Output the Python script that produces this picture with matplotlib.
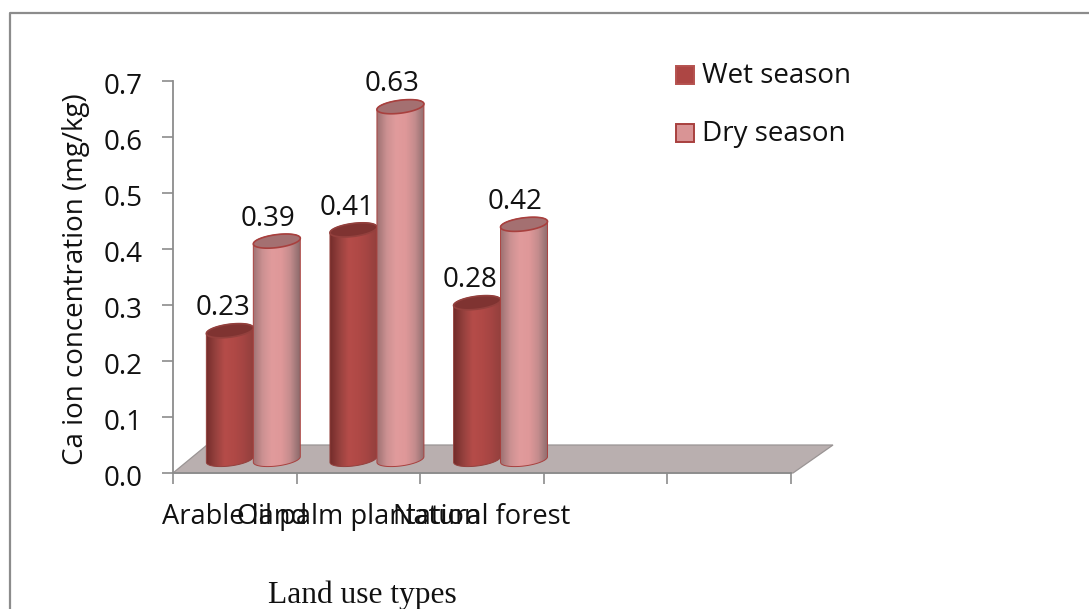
import numpy as np
import matplotlib
matplotlib.use("Agg")
import matplotlib.pyplot as plt
from matplotlib.patches import Polygon, Rectangle
from matplotlib.colors import LinearSegmentedColormap
from matplotlib.transforms import ScaledTranslation

categories = ["Arable land", "Oil palm plantation", "Natural forest"]
wet_season = [0.23, 0.41, 0.28]
dry_season = [0.39, 0.63, 0.42]
series_names = ["Wet season", "Dry season"]
y_ticks = [0.0, 0.1, 0.2, 0.3, 0.4, 0.5, 0.6, 0.7]
n_slots = 5

W, H = 1089, 609
plt.rcParams['font.family'] = ['Open Sans', 'DejaVu Sans']
fig = plt.figure(figsize=(W / 100, H / 100), dpi=100)

bg = fig.add_axes([0, 0, 1, 1])
bg.set_xlim(0, W); bg.set_ylim(H, 0); bg.axis('off')
bg.plot([10, 10, W + 5], [H + 5, 13, 13], color='#8c8c8c', lw=1.6, clip_on=False)

x0, x1, y0, y1 = 173, 791, 473, 81
ax = fig.add_axes([x0 / W, 1 - y0 / H, (x1 - x0) / W, (y0 - y1) / H])
ax.patch.set_alpha(0)
ax.set_xlim(0, n_slots); ax.set_ylim(0, 0.7)
for s in ['top', 'right']:
    ax.spines[s].set_visible(False)
for s in ['left', 'bottom']:
    ax.spines[s].set_color('#8c8c8c'); ax.spines[s].set_linewidth(1.3)
ax.set_yticks(y_ticks)
ax.set_yticklabels([f"{v:.1f}" for v in y_ticks], fontsize=20, color='#111111')
ax.set_xticks(np.arange(n_slots + 1))
ax.set_xticklabels([])
ax.tick_params(axis='both', length=8, width=1.2, color='#8c8c8c')
ax.tick_params(axis='y', pad=14)
shift = ScaledTranslation(0, -2 / 100, fig.dpi_scale_trans)
for lab in ax.get_yticklabels():
    lab.set_transform(lab.get_transform() + shift)
ax.set_ylabel("Ca ion concentration (mg/kg)", fontsize=20, color='#111111')
ax.yaxis.set_label_coords(-0.134, 0.494)

px = n_slots / (x1 - x0)
py = 0.7 / (y0 - y1)

ax.add_patch(Polygon([(0, 0), (34 * px, 28 * py), (660 * px, 28 * py), (620 * px, 0)],
                     closed=True, fc='#b9afaf', ec='#9a9494', lw=0.9, clip_on=False, zorder=1))

for i, c in enumerate(categories):
    ax.text(i + 0.5, -0.078, c, ha='center', va='center', fontsize=19.6, color='#111111')

wet_cmap = LinearSegmentedColormap.from_list('w', ['#752d2b', '#96413e', '#b54c49', '#b04946', '#a54543', '#93403d'])
dry_cmap = LinearSegmentedColormap.from_list('d', ['#a07374', '#cc9192', '#e19b9c', '#df9899', '#c48c8d', '#8e6c6d'])
wet_top, dry_top = '#7f3331', '#a47071'

half_w = 23.5 * px
ell_h = 6.5 * py
tilt = 0.12 * (py / px)
base = 13.5 * py
t = np.linspace(0, 2 * np.pi, 80)


def ell(cx, cy, tt):
    return np.c_[cx + half_w * np.cos(tt), cy + ell_h * np.sin(tt) + tilt * half_w * np.cos(tt)]


def cylinder(cx, v, cmap, edge, top, z):
    cy_top = base + v
    body = np.r_[ell(cx, base, np.linspace(np.pi, 2 * np.pi, 40)),
                 ell(cx, cy_top, np.linspace(0, np.pi, 40))]
    ax.add_patch(Polygon(body, closed=True, fc='none', ec=edge, lw=0.7, clip_on=False, zorder=z + 0.2))
    im = ax.imshow(np.linspace(0, 1, 64)[None, :], cmap=cmap, aspect='auto',
                   extent=[cx - half_w, cx + half_w, 0, 0.7], zorder=z)
    im.set_clip_path(Polygon(body, closed=True, transform=ax.transData))
    ax.add_patch(Polygon(ell(cx, cy_top, t), closed=True, fc=top, ec=edge, lw=1.2,
                         clip_on=False, zorder=z + 0.3))


for i in range(len(categories)):
    cylinder(i + 0.46, wet_season[i], wet_cmap, '#93403d', wet_top, 2 + i * 2)
    cylinder(i + 0.84, dry_season[i], dry_cmap, '#a8403e', dry_top, 3 + i * 2)
    ax.text(i + 0.46 - 6.5 * px, wet_season[i] + 0.064, f"{wet_season[i]:.2f}", ha='center', va='center',
            fontsize=20, zorder=20, color='#111111')
    ax.text(i + 0.84 - 8.5 * px, dry_season[i] + 0.064, f"{dry_season[i]:.2f}", ha='center', va='center',
            fontsize=20, zorder=20, color='#111111')
ax.set_xlim(0, n_slots); ax.set_ylim(0, 0.7)

for name, yy, base_y, fc, ec in [(series_names[0], 74.5, 83, '#ad4644', '#b5524f'),
                                 (series_names[1], 132.5, 141, '#d99495', '#a8403e')]:
    bg.add_patch(Rectangle((675.5, yy - 9), 18, 18, fc=fc, ec=ec, lw=1.4))
    bg.text(702, base_y, name, fontsize=20, va='baseline', ha='left', color='#111111')

bg.text(362.5, 603, "Land use types", fontsize=22.7, family='Liberation Serif', ha='center', va='baseline', color='#111111')

fig.savefig("out.png", dpi=100)
